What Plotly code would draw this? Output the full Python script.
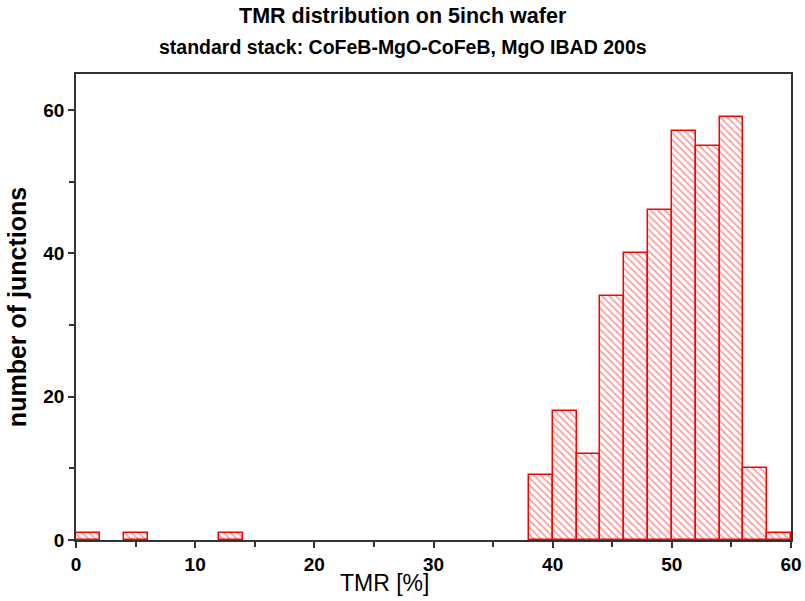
import plotly.graph_objects as go

bin_left = [0, 4, 12, 38, 40, 42, 44, 46, 48, 50, 52, 54, 56, 58]
counts = [1, 1, 1, 9, 18, 12, 34, 40, 46, 57, 55, 59, 10, 1]
bin_width = 2

title = "TMR distribution on 5inch wafer"
subtitle = "standard stack: CoFeB-MgO-CoFeB, MgO IBAD 200s"
x_title = "TMR [%]"
y_title = "number of junctions"

centers = [b + bin_width / 2 for b in bin_left]

fig = go.Figure()
fig.add_trace(go.Bar(
    x=centers, y=counts, width=[bin_width] * len(centers),
    marker=dict(
        color="white",
        line=dict(color="#ff0000", width=1.5),
        pattern=dict(shape="\\", fgcolor="#ff2020", bgcolor="white", size=5, solidity=0.3),
    ),
    showlegend=False,
))

axis_common = dict(
    showline=True, linecolor="#333333", linewidth=1.5, mirror=True,
    ticks="outside", ticklen=6, tickwidth=1.5, tickcolor="#333333",
    showgrid=False, zeroline=False, automargin=False,
    tickfont=dict(family="Liberation Sans, Arial", size=19, color="black", weight="bold"),
)

fig.update_layout(
    width=805, height=601,
    margin=dict(l=76, r=14, t=74, b=61),
    paper_bgcolor="white", plot_bgcolor="white",
    bargap=0,
    xaxis=dict(range=[0, 60], dtick=10, tick0=0,
               minor=dict(dtick=5, ticks="outside", ticklen=5, tickwidth=1.5, tickcolor="#333333"),
               **axis_common),
    yaxis=dict(range=[0, 65], dtick=20, tick0=0,
               minor=dict(dtick=10, ticks="outside", ticklen=5, tickwidth=1.5, tickcolor="#333333"),
               title=dict(text=y_title, standoff=10,
                          font=dict(family="Liberation Sans, Arial", size=25, color="black", weight="bold")),
               **axis_common),
)

page_center = (402.5 - 76) / 715
fig.add_annotation(text=x_title, x=0.431, y=0, xref="paper", yref="paper", yanchor="middle",
                   xanchor="center", yshift=-43, showarrow=False,
                   font=dict(family="Liberation Sans, Arial", size=23, color="black"))
fig.add_annotation(text=title, x=page_center, y=1, xref="paper", yref="paper", yanchor="middle",
                   xanchor="center", yshift=74 - 16, showarrow=False,
                   font=dict(family="Liberation Sans, Arial", size=21.5, color="black", weight="bold"))
fig.add_annotation(text=subtitle, x=page_center, y=1, xref="paper", yref="paper", yanchor="middle",
                   xanchor="center", yshift=74 - 47, showarrow=False,
                   font=dict(family="Liberation Sans, Arial", size=19.5, color="black", weight="bold"))

fig.write_html("out.html")
